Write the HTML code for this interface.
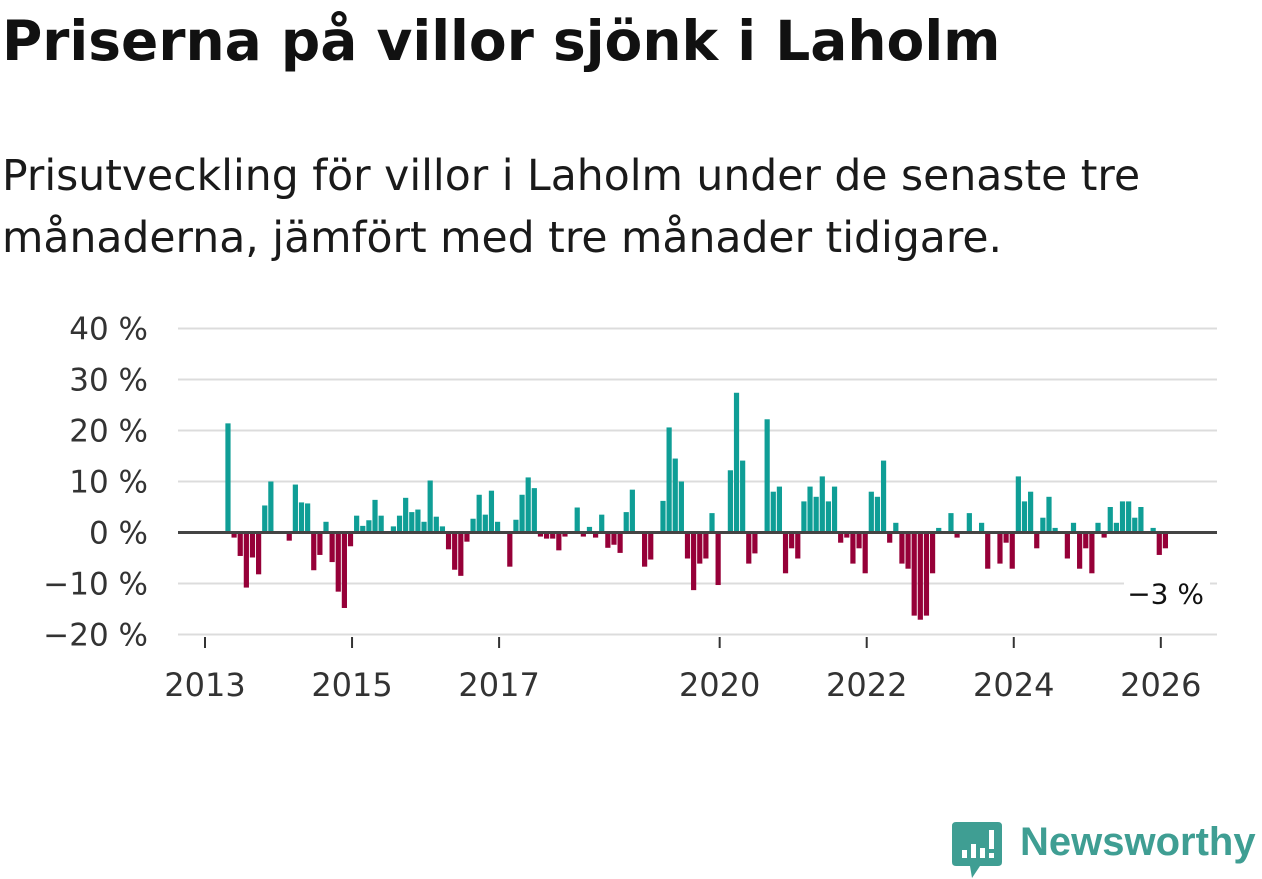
<!DOCTYPE html>
<html><head><meta charset="utf-8">
<style>
html,body{margin:0;padding:0;background:#fff;width:1262px;height:879px;overflow:hidden;}
body{font-family:"DejaVu Sans","Liberation Sans",sans-serif;color:#111;position:relative;}
h1{position:absolute;left:2px;top:9px;margin:0;font-size:55px;font-weight:bold;color:#111;white-space:nowrap;}
.sub{position:absolute;left:2px;top:146px;margin:0;font-size:42.5px;line-height:62px;color:#1a1a1a;width:1250px;white-space:nowrap;}
svg{position:absolute;left:0;top:0;}
</style></head><body>
<h1>Priserna på villor sjönk i Laholm</h1>
<p class="sub">Prisutveckling för villor i Laholm under de senaste tre<br>månaderna, jämfört med tre månader tidigare.</p>
<svg id="chart" width="1262" height="879"></svg>
<script>
// month index (0 = Jan 2013) and percentage change
const months = [3,4,5,6,7,8,9,10,13,14,15,16,17,18,19,20,21,22,23,24,25,26,27,28,30,31,32,33,34,35,36,37,38,39,40,41,42,43,44,45,46,47,49,50,51,52,53,54,55,56,57,58,60,61,62,63,64,65,66,67,68,69,71,72,74,75,76,77,78,79,80,81,82,83,85,86,87,88,89,91,92,93,94,95,96,97,98,99,100,101,102,103,104,105,106,107,108,109,110,111,112,113,114,115,116,117,118,119,121,122,124,126,127,129,130,131,132,133,134,135,136,137,138,140,141,142,143,144,145,146,147,148,149,150,151,152,154,155,156];
const values = [21.4,-1,-4.6,-10.8,-4.9,-8.2,5.3,10,-1.6,9.4,5.9,5.7,-7.4,-4.4,2.1,-5.8,-11.6,-14.8,-2.7,3.3,1.3,2.4,6.4,3.3,1.2,3.3,6.8,4,4.5,2.1,10.2,3.1,1.2,-3.3,-7.3,-8.5,-1.8,2.7,7.4,3.5,8.2,2.1,-6.7,2.5,7.4,10.8,8.7,-0.8,-1.2,-1.2,-3.5,-0.8,4.9,-0.8,1.1,-1,3.5,-3,-2.4,-4,4,8.4,-6.7,-5.3,6.2,20.6,14.5,10,-5.1,-11.3,-6.1,-5.1,3.8,-10.3,12.2,27.4,14.1,-6.1,-4.1,22.2,8,9,-8,-3.1,-5.1,6.1,9,7,11,6.1,9,-2,-1,-6.1,-3.1,-8,8,7,14.1,-2,1.9,-6.1,-7.1,-16.3,-17.1,-16.3,-8,0.9,3.8,-1,3.8,1.9,-7.1,-6.1,-2,-7.1,11,6.1,8,-3.1,2.9,7,0.9,-5.1,1.9,-7.1,-3.1,-8,1.9,-1,5,1.9,6.1,6.1,2.9,5,0.9,-4.4,-3.1];
const yTicks = [40,30,20,10,0,-10,-20];
const yTickLabels = ["40 %","30 %","20 %","10 %","0 %","−10 %","−20 %"];
const xTicks = [2013,2015,2017,2020,2022,2024,2026];
const lastLabel = "−3 %";

const NS="http://www.w3.org/2000/svg";
const svg=document.getElementById('chart');
const FONT='DejaVu Sans, Liberation Sans, sans-serif';
function y(v){return 532.5 - v*5.1;}
function xm(m){return 205 + (m+0.75)*6.127;}
function xYear(yr){return xm((yr-2013)*12) - 4.6;}
function mk(tag,attrs){const e=document.createElementNS(NS,tag);for(const k in attrs)e.setAttribute(k,attrs[k]);svg.appendChild(e);return e;}

yTicks.forEach((t,i)=>{
  if(t!==0){
    const g=mk('line',{x1:178,x2:1217,y1:y(t),y2:y(t),stroke:'#dcdcdc','stroke-width':2});
    
    
  }
  const tx=mk('text',{x:148,y:y(t)+11,'text-anchor':'end','font-size':31,fill:'#333','font-family':FONT});
  tx.textContent=yTickLabels[i];
  
  
});
xTicks.forEach(yr=>{
  const x=xYear(yr);
  const l=mk('line',{x1:x,x2:x,y1:637,y2:648,stroke:'#333','stroke-width':2});
  
  
  const t=mk('text',{x:x,y:696,'text-anchor':'middle','font-size':32,fill:'#333','font-family':FONT});
  t.textContent=String(yr);
  
  
});
months.forEach((m,i)=>{
  const v=values[i];
  const cx=xm(m);
  const r=mk('rect',{x:cx-2.6,width:5.2,y:Math.min(y(v),y(0)),height:Math.abs(y(v)-y(0)),fill:v>=0?'#0f9e96':'#960038'});
  
  
});
const z=mk('line',{x1:178,x2:1217,y1:y(0),y2:y(0),stroke:'#444','stroke-width':3});


const lv=values[values.length-1];
const lb=mk('rect',{x:1124,y:y(lv)+28,width:86,height:30,fill:'#fff'});


const lt=mk('text',{x:1204,y:y(lv)+55,'text-anchor':'end','font-size':28,fill:'#111','font-family':FONT});
lt.textContent=lastLabel;


</script>
<div style="position:absolute;left:952px;top:820px;height:60px;width:310px;">
  <svg width="52" height="60" viewBox="0 0 52 60" style="position:absolute;left:0;top:0;">
    <path d="M4 2 H46 Q50 2 50 6 V42 Q50 46 46 46 H28 L20 58 L18 46 H4 Q0 46 0 42 V6 Q0 2 4 2Z" fill="#3f9e93"/>
    <rect x="10" y="30" width="5" height="8" fill="#fff"/>
    <rect x="19" y="24" width="5" height="14" fill="#fff"/>
    <rect x="28" y="28" width="5" height="10" fill="#fff"/>
    <rect x="37" y="10" width="5" height="19" fill="#fff"/>
    <rect x="37" y="33" width="5" height="5" fill="#fff"/>
  </svg>
  <span style="position:absolute;left:68px;top:0px;font-size:40px;font-weight:bold;color:#3f9e93;font-family:'Liberation Sans',sans-serif;">Newsworthy</span>
</div>
</body></html>
